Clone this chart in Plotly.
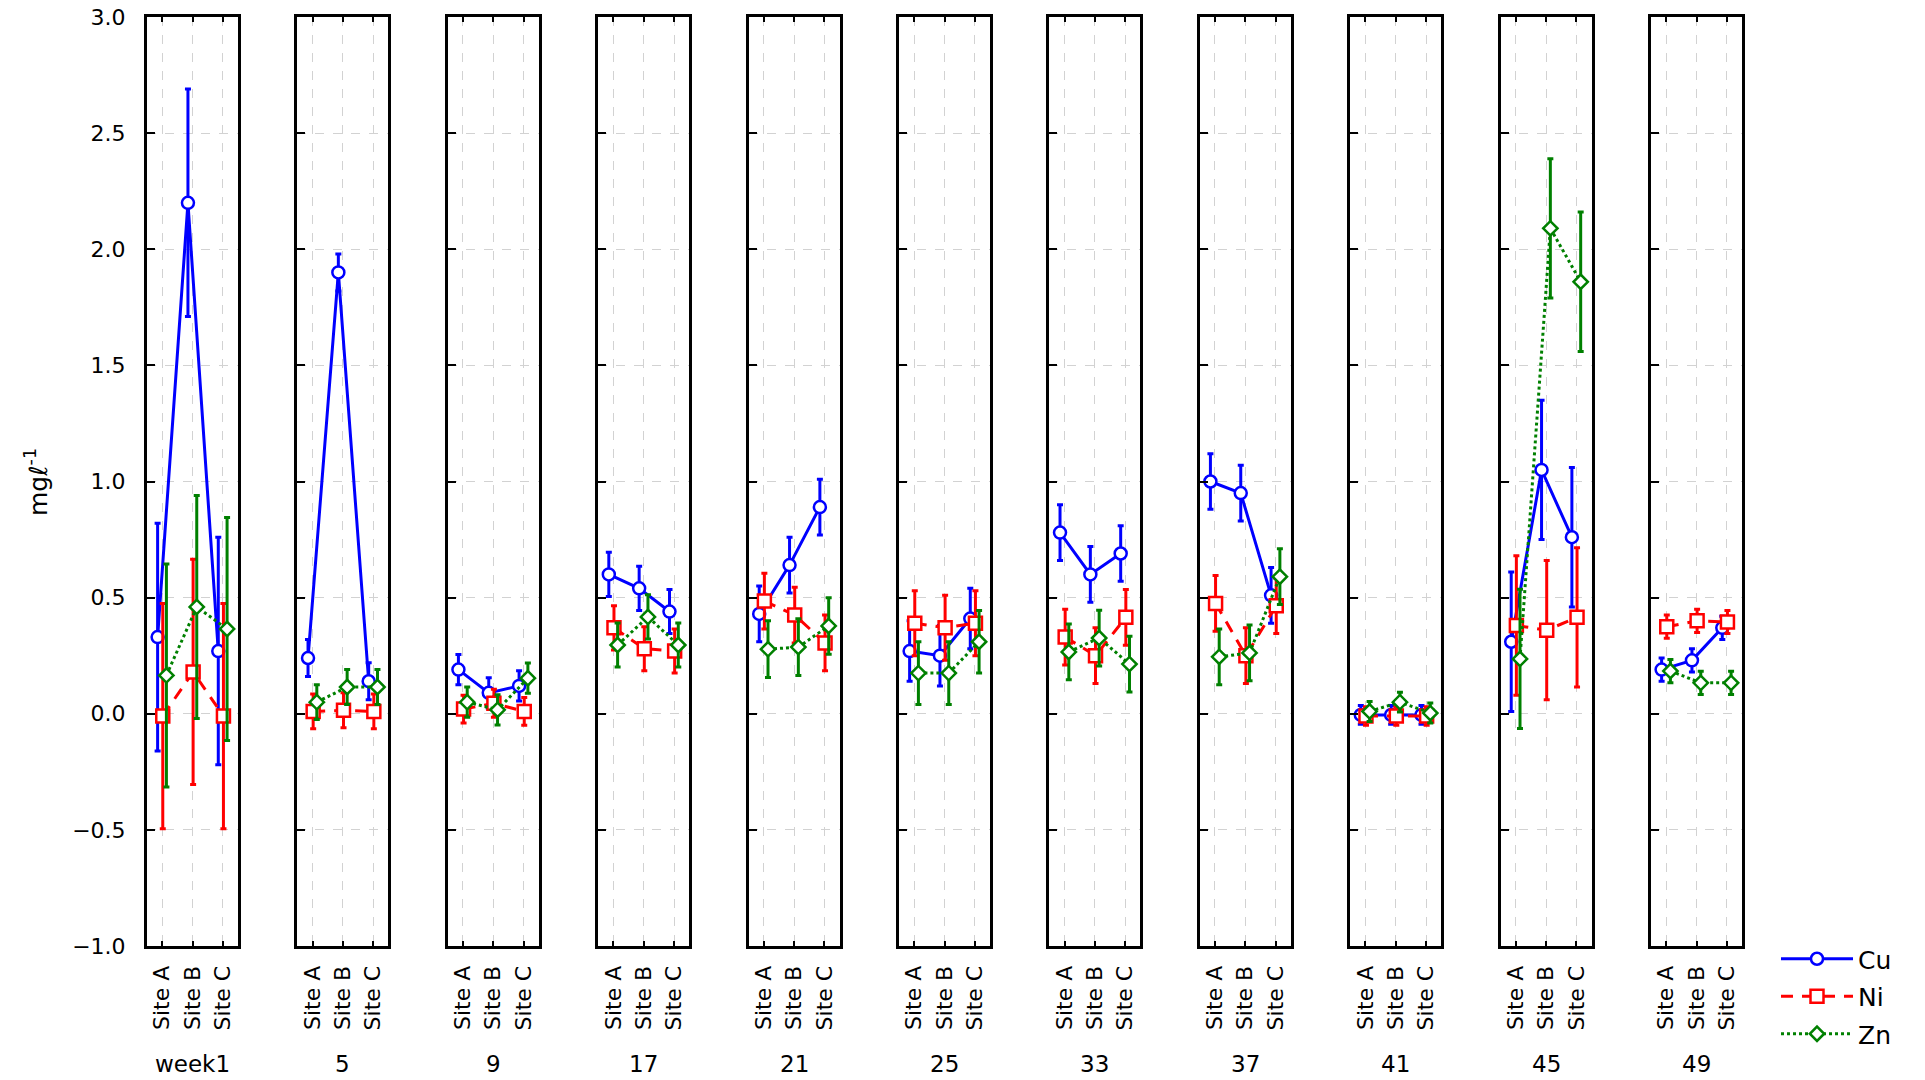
import plotly.graph_objects as go

# ---- data: mean concentration (mg/l) per site for each sampling week, with error half-widths
weeks = ["week1", "5", "9", "17", "21", "25", "33", "37", "41", "45", "49"]
sites = ["Site A", "Site B", "Site C"]

cu_mean = [
    [0.33, 2.20, 0.27],
    [0.24, 1.90, 0.14],
    [0.19, 0.09, 0.12],
    [0.60, 0.54, 0.44],
    [0.43, 0.64, 0.89],
    [0.27, 0.25, 0.41],
    [0.78, 0.60, 0.69],
    [1.00, 0.95, 0.51],
    [-0.005, -0.005, -0.005],
    [0.31, 1.05, 0.76],
    [0.19, 0.23, 0.37],
]
cu_err = [0.49, 0.08, 0.065, 0.095, 0.12, 0.13, 0.12, 0.12, 0.04, 0.30, 0.05]

ni_mean = [
    [-0.01, 0.18, -0.01],
    [0.01, 0.015, 0.01],
    [0.02, 0.045, 0.01],
    [0.37, 0.28, 0.27],
    [0.485, 0.425, 0.305],
    [0.39, 0.37, 0.39],
    [0.33, 0.25, 0.415],
    [0.475, 0.25, 0.465],
    [-0.01, -0.01, -0.01],
    [0.38, 0.36, 0.415],
    [0.375, 0.40, 0.395],
]
ni_err = [0.485, 0.075, 0.06, 0.095, 0.12, 0.14, 0.12, 0.12, 0.04, 0.30, 0.05]

zn_mean = [
    [0.165, 0.46, 0.365],
    [0.05, 0.115, 0.115],
    [0.05, 0.017, 0.153],
    [0.296, 0.417, 0.296],
    [0.278, 0.287, 0.378],
    [0.175, 0.175, 0.31],
    [0.266, 0.326, 0.214],
    [0.245, 0.262, 0.59],
    [0.01, 0.05, 0.003],
    [0.236, 2.09, 1.86],
    [0.184, 0.133, 0.133],
]
zn_err = [0.48, 0.075, 0.065, 0.095, 0.122, 0.135, 0.12, 0.12, 0.043, 0.30, 0.05]

# ---- styling
W, H = 1925, 1080
FONT = "DejaVu Sans, Liberation Sans, Arial, sans-serif"
series = [
    dict(name="Cu", mean=cu_mean, err=cu_err, color="#0000ff", dash="solid",
         symbol="circle", size=12, shift=-0.15),
    dict(name="Ni", mean=ni_mean, err=ni_err, color="#ff0000", dash="12px,9px",
         symbol="square", size=13, shift=0.02),
    dict(name="Zn", mean=zn_mean, err=zn_err, color="#008000", dash="dot",
         symbol="diamond", size=11, shift=0.14),
]

panel_left = 147      # px, left edge of first panel
panel_pitch = 150.4   # px between panel left edges
panel_width = 91      # px
plot_top, plot_bottom = 17, 946  # px

y_dom = [1 - plot_bottom / H, 1 - plot_top / H]

fig = go.Figure()
layout = dict(
    template="none",
    width=W, height=H, autosize=False,
    margin=dict(l=0, r=0, t=0, b=0, pad=0),
    paper_bgcolor="white", plot_bgcolor="white",
    font=dict(family=FONT, size=22, color="black"),
    showlegend=True,
)

n = len(weeks)
for i in range(n):
    k = i + 1
    xa = "x" if k == 1 else f"x{k}"
    ya = "y" if k == 1 else f"y{k}"
    x0 = (panel_left + i * panel_pitch) / W
    x1 = (panel_left + i * panel_pitch + panel_width) / W

    for s in series:
        fig.add_trace(go.Scatter(
            x=[j + s["shift"] for j in range(len(sites))],
            y=s["mean"][i],
            error_y=dict(type="constant", value=s["err"][i], color=s["color"],
                         thickness=3, width=3),
            mode="lines+markers",
            line=dict(color=s["color"], width=3, dash=s["dash"]),
            marker=dict(symbol=s["symbol"], size=s["size"], color="white",
                        line=dict(color=s["color"], width=2.5)),
            name=s["name"], legendgroup=s["name"], showlegend=(i == 0),
            xaxis=xa, yaxis=ya, hoverinfo="skip",
        ))

    layout[f"xaxis{k if k > 1 else ''}"] = dict(
        domain=[x0, x1], anchor=ya, range=[-0.5, 2.5], automargin=False,
        tickmode="array", tickvals=[0, 1, 2], ticktext=sites,
        tickangle=-90, ticks="inside", ticklen=5, tickwidth=2, tickcolor="black",
        ticklabelstandoff=8,
        showline=True, linewidth=3, linecolor="black", mirror="ticks",
        showgrid=True, gridcolor="#d2d2d2", griddash="dash", gridwidth=1,
        zeroline=False, tickfont=dict(size=22, family=FONT),
        fixedrange=True,
    )
    layout[f"yaxis{k if k > 1 else ''}"] = dict(
        domain=y_dom, anchor=xa, range=[-1, 3], dtick=0.5, tick0=0, automargin=False,
        tickformat=".1f", showticklabels=(i == 0),
        ticks="inside", ticklen=8, tickwidth=2, tickcolor="black",
        ticklabelstandoff=14,
        showline=True, linewidth=3, linecolor="black", mirror=True,
        showgrid=True, gridcolor="#d2d2d2", griddash="dash", gridwidth=1,
        zeroline=False, tickfont=dict(size=22, family=FONT),
        fixedrange=True,
    )
    # right-hand tick marks: a separate 9-division scale on each panel
    layout[f"yaxis{n + k}"] = dict(
        overlaying=ya, anchor=xa, side="right", range=[0, 9], dtick=1,
        automargin=False,
        ticks="inside", ticklen=8, tickwidth=2, tickcolor="black",
        showticklabels=False, showline=False, showgrid=False, zeroline=False,
        fixedrange=True,
    )

    fig.add_annotation(
        text=weeks[i], xref="paper", yref="paper",
        x=(x0 + x1) / 2, y=1 - 1064 / H, xanchor="center", yanchor="middle",
        showarrow=False, font=dict(size=23, family=FONT),
    )

fig.add_annotation(
    text="mgℓ<sup>-1</sup>", xref="paper", yref="paper",
    x=36 / W, y=1 - 482 / H, textangle=-90, xanchor="center", yanchor="middle",
    showarrow=False, font=dict(size=25, family=FONT),
)

layout["legend"] = dict(
    x=1776 / W, y=1 - 936 / H, xanchor="left", yanchor="top",
    font=dict(size=25, family=FONT), itemwidth=72,
    traceorder="grouped", tracegroupgap=2, bgcolor="rgba(0,0,0,0)",
)

fig.update_layout(**layout)
fig.write_html("out.html")
